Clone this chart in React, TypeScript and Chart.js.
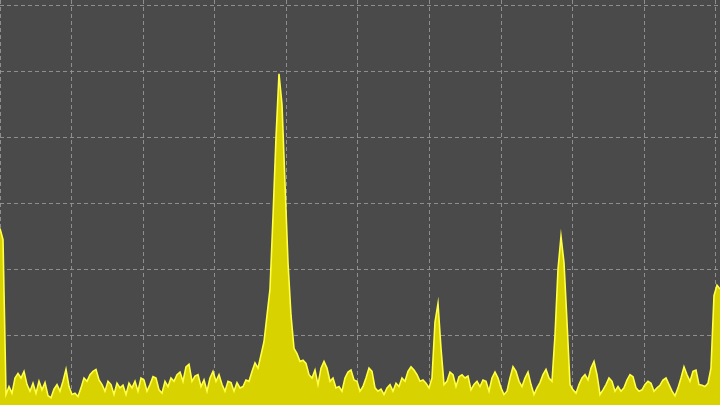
import React, { useEffect, useRef } from "react";
import { Chart, registerables } from "chart.js";

Chart.register(...registerables);

// Spectrum trace levels in dBm, sampled evenly across the span
const levels: number[] = [
  -73.8, -75.5, -99.0, -97.8, -98.8, -96.5, -95.8, -96.5, -95.5, -97.5,
  -98.5, -97.3, -98.8, -97.0, -98.3, -97.2, -99.2, -99.5, -98.2, -97.5,
  -98.5, -97.0, -95.2, -97.8, -99.0, -98.8, -99.3, -98.0, -96.5, -97.0,
  -96.0, -95.5, -95.2, -96.8, -97.5, -98.5, -97.0, -97.5, -99.0, -97.3,
  -98.0, -97.6, -99.0, -97.3, -98.0, -97.0, -98.5, -96.5, -96.8, -98.5,
  -97.5, -96.3, -96.5, -98.3, -98.8, -97.0, -97.8, -96.5, -97.0, -96.0,
  -95.6, -97.0, -94.8, -94.4, -97.0, -96.2, -96.0, -97.8, -96.8, -98.5,
  -96.5, -95.5, -97.0, -96.0, -97.5, -98.5, -97.0, -97.2, -98.5, -97.2,
  -98.0, -97.8, -96.8, -97.0, -95.5, -94.2, -95.0, -93.0, -91.0, -87.0,
  -83.0, -72.0, -60.0, -50.3, -55.0, -67.0, -79.0, -87.0, -92.0, -92.8,
  -94.0, -93.8, -94.3, -96.0, -96.5, -95.3, -97.5, -95.0, -94.0, -95.0,
  -97.0, -96.5, -98.0, -97.8, -98.5, -96.5, -95.6, -95.3, -96.8, -97.0,
  -98.5, -97.8, -96.5, -95.0, -95.5, -98.0, -98.5, -98.2, -99.0, -98.0,
  -97.5, -98.5, -97.3, -97.8, -96.5, -97.0, -95.5, -94.8, -95.3, -96.0,
  -97.0, -96.8, -97.3, -98.0, -96.5, -88.0, -85.2, -92.0, -97.5, -97.0,
  -95.6, -96.0, -97.8, -96.3, -96.0, -96.5, -96.2, -98.3, -97.5, -97.0,
  -97.8, -96.8, -97.0, -98.5, -96.5, -95.6, -96.5, -98.0, -99.0, -98.5,
  -96.5, -94.8, -95.5, -97.0, -97.8, -96.5, -95.6, -97.5, -99.0, -98.0,
  -97.2, -96.0, -95.2, -96.5, -97.0, -90.0, -80.0, -75.0, -79.0, -88.0,
  -97.5, -98.3, -98.8, -97.5, -96.5, -96.0, -96.8, -95.0, -94.0, -96.0,
  -99.0, -98.3, -97.5, -96.5, -97.0, -98.5, -97.8, -98.5, -98.0, -96.8,
  -96.0, -96.3, -98.0, -98.5, -98.3, -97.5, -97.0, -97.3, -98.5, -98.0,
  -97.6, -96.8, -96.5, -97.5, -98.5, -99.2, -98.0, -96.5, -94.8, -96.0,
  -97.0, -95.5, -95.3, -97.5, -97.6, -97.8, -97.3, -95.0, -84.0, -82.4,
  -83.0,
];

// Span in divisions shown across the screen
const spanDivisions = 10.056;
const xGridTicks = [0, 1, 2, 3, 4, 5, 6, 7, 8, 9, 10];
const yGridTicks = [-100, -90, -80, -70, -60, -50, -40];
const yMin = -100.6;
const yMax = -39.1;

export default function App() {
  const ref = useRef<HTMLCanvasElement>(null);

  useEffect(() => {
    if (!ref.current) return;
    const pts = levels.map((v, i) => ({
      x: (i * spanDivisions) / (levels.length - 1),
      y: v,
    }));
    const gridColor = "rgba(150,150,150,0.9)";
    const chart = new Chart(ref.current, {
      type: "line",
      data: {
        datasets: [
          {
            data: pts,
            fill: "start",
            backgroundColor: "#d8d200",
            borderColor: "#ffff45",
            borderWidth: 1.6,
            pointRadius: 0,
            tension: 0,
          },
        ],
      },
      options: {
        animation: false,
        responsive: false,
        maintainAspectRatio: false,
        layout: { padding: 0 },
        plugins: {
          legend: { display: false },
          tooltip: { enabled: false },
        },
        scales: {
          x: {
            type: "linear",
            min: 0,
            max: spanDivisions,
            afterBuildTicks: (s: any) => {
              s.ticks = xGridTicks.map((v) => ({ value: v }));
            },
            ticks: { display: false },
            grid: { color: gridColor, drawTicks: false, lineWidth: 1 },
            border: { display: false, dash: [4, 3] },
          },
          y: {
            type: "linear",
            min: yMin,
            max: yMax,
            afterBuildTicks: (s: any) => {
              s.ticks = yGridTicks.map((v) => ({ value: v }));
            },
            ticks: { display: false },
            grid: { color: gridColor, drawTicks: false, lineWidth: 1 },
            border: { display: false, dash: [4, 3] },
          },
        },
      },
    });
    return () => chart.destroy();
  }, []);

  return (
    <div
      style={{
        position: "fixed",
        left: 0,
        top: 0,
        width: 720,
        height: 405,
        background: "#4a4a4a",
      }}
    >
      <canvas ref={ref} width={720} height={405} style={{ display: "block" }} />
    </div>
  );
}
